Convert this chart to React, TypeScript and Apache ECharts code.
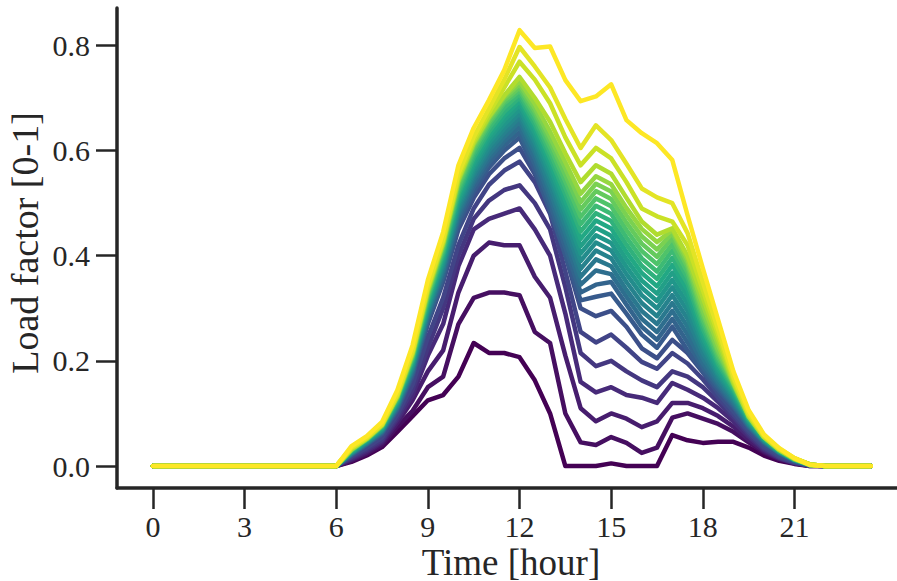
import React, { useEffect, useRef } from "react";
import * as echarts from "echarts";

// Half-hour time stamps of the day
const HOURS = [
  0, 0.5, 1, 1.5, 2, 2.5, 3, 3.5, 4, 4.5, 5, 5.5, 6, 6.5, 7, 7.5, 8, 8.5, 9, 9.5, 10, 10.5, 11, 11.5,
  12, 12.5, 13, 13.5, 14, 14.5, 15, 15.5, 16, 16.5, 17, 17.5, 18, 18.5, 19, 19.5, 20, 20.5, 21, 21.5,
  22, 22.5, 23, 23.5,
];
const NIGHT_AM = [0, 0, 0, 0, 0, 0, 0, 0, 0, 0, 0, 0]; // 0:00 - 5:30
const NIGHT_PM = [0, 0, 0]; // 22:30 - 23:30

// Profiles from 6:00 to 22:00, darkest (lowest) to brightest (highest)
const P00 = [0, .008, .02, .036, .065, .095, .125, .135, .17, .234, .215, .215, .207, .163, .10, 0, 0, 0, .005, 0, 0, 0, .059, .049, .044, .046, .046, .035, .02, .01, .004, 0, 0];
const P01 = [0, .01, .023, .04, .075, .105, .15, .17, .27, .32, .33, .33, .325, .255, .234, .10, .045, .04, .055, .044, .025, .035, .092, .10, .09, .08, .065, .045, .026, .013, .005, 0, 0];
const P02 = [0, .012, .026, .044, .082, .125, .18, .22, .33, .40, .425, .42, .42, .36, .32, .21, .11, .085, .10, .09, .074, .085, .12, .12, .11, .095, .075, .05, .028, .014, .005, .001, 0];
const P03 = [0, .014, .029, .047, .088, .135, .21, .27, .38, .45, .47, .48, .49, .45, .40, .29, .16, .14, .15, .135, .13, .12, .158, .145, .13, .11, .085, .056, .031, .015, .006, .001, 0];
const P04 = [0, .016, .032, .05, .093, .145, .225, .30, .40, .47, .505, .525, .534, .50, .45, .34, .215, .19, .20, .18, .163, .15, .18, .17, .15, .122, .093, .06, .033, .016, .006, .001, 0];
const P05 = [0, .018, .035, .054, .098, .155, .245, .32, .42, .49, .535, .562, .579, .54, .48, .37, .255, .235, .25, .225, .198, .185, .215, .195, .165, .13, .098, .064, .036, .018, .007, .001, 0];
const P06 = [0, .02, .04, .06, .105, .17, .27, .35, .45, .51, .555, .585, .605, .555, .49, .40, .30, .285, .295, .265, .224, .205, .24, .215, .178, .138, .104, .068, .04, .02, .008, .001, 0];
const P07 = [0, .021, .041, .062, .108, .174, .276, .357, .46, .522, .568, .60, .625, .563, .485, .402, .315, .322, .328, .29, .25, .225, .265, .22, .18, .145, .112, .073, .044, .024, .01, .002, 0];
const P08 = [0, .022, .042, .064, .11, .178, .281, .363, .468, .53, .577, .61, .635, .574, .498, .415, .33, .345, .35, .307, .265, .24, .28, .235, .188, .15, .115, .075, .045, .025, .01, .002, 0];
const P09 = [0, .023, .043, .065, .112, .181, .286, .369, .475, .538, .585, .618, .645, .585, .51, .429, .345, .372, .365, .322, .28, .255, .295, .25, .195, .155, .118, .077, .046, .025, .011, .002, 0];
const P10 = [0, .024, .044, .066, .114, .184, .29, .374, .481, .545, .592, .626, .655, .596, .522, .443, .36, .393, .38, .335, .295, .27, .31, .265, .205, .16, .122, .078, .047, .026, .011, .002, 0];
const P11 = [0, .025, .045, .067, .116, .187, .294, .379, .487, .552, .60, .634, .663, .605, .533, .456, .375, .41, .395, .35, .31, .285, .325, .28, .215, .166, .126, .08, .048, .026, .011, .002, 0];
const P12 = [0, .025, .046, .068, .118, .19, .298, .384, .493, .558, .607, .642, .671, .615, .545, .469, .39, .425, .41, .365, .325, .30, .34, .295, .225, .172, .13, .082, .049, .027, .012, .002, 0];
const P13 = [0, .026, .047, .07, .12, .193, .302, .389, .499, .565, .615, .65, .679, .624, .555, .481, .404, .439, .424, .379, .339, .314, .354, .309, .234, .177, .134, .084, .05, .027, .012, .002, 0];
const P14 = [0, .027, .048, .071, .122, .196, .306, .394, .505, .572, .622, .658, .687, .633, .566, .493, .418, .453, .438, .393, .353, .328, .368, .323, .243, .183, .138, .086, .051, .028, .012, .002, 0];
const P15 = [0, .028, .049, .072, .124, .199, .31, .399, .511, .579, .629, .666, .694, .642, .576, .505, .432, .467, .452, .407, .367, .342, .382, .335, .252, .189, .142, .088, .052, .028, .012, .002, 0];
const P16 = [0, .029, .05, .074, .126, .202, .315, .404, .517, .586, .636, .674, .701, .65, .586, .517, .446, .481, .466, .421, .381, .356, .396, .347, .261, .195, .146, .09, .053, .029, .012, .002, 0];
const P17 = [0, .03, .05, .075, .128, .205, .319, .409, .523, .593, .643, .682, .708, .658, .596, .529, .46, .495, .48, .435, .395, .37, .41, .358, .27, .201, .15, .091, .054, .03, .013, .002, 0];
const P18 = [0, .03, .051, .076, .13, .208, .323, .414, .529, .60, .65, .69, .714, .666, .606, .541, .474, .509, .494, .449, .409, .384, .422, .368, .278, .207, .153, .093, .055, .03, .013, .002, 0];
const P19 = [0, .031, .051, .077, .131, .21, .327, .418, .535, .605, .655, .695, .72, .674, .616, .553, .488, .523, .508, .463, .423, .398, .434, .378, .287, .214, .156, .094, .055, .031, .013, .003, 0];
const P20 = [0, .031, .052, .077, .132, .212, .33, .421, .54, .61, .66, .70, .726, .681, .625, .566, .502, .537, .522, .477, .437, .412, .443, .386, .295, .22, .157, .095, .055, .031, .013, .003, 0];
const P21 = [0, .032, .052, .078, .133, .214, .333, .424, .543, .613, .663, .703, .732, .689, .636, .578, .518, .551, .536, .491, .451, .426, .449, .393, .307, .23, .158, .095, .055, .031, .014, .003, 0];
const P22 = [0, .032, .052, .078, .133, .215, .335, .425, .545, .615, .665, .705, .740, .70, .655, .595, .54, .572, .556, .51, .465, .44, .452, .40, .32, .24, .16, .095, .055, .031, .014, .003, 0];
const P23 = [0, .034, .053, .079, .135, .217, .338, .428, .55, .62, .672, .72, .769, .735, .69, .625, .572, .605, .585, .54, .49, .475, .465, .42, .335, .25, .165, .098, .056, .032, .014, .003, 0];
const P24 = [0, .035, .054, .080, .137, .22, .342, .432, .556, .626, .68, .735, .797, .76, .72, .66, .605, .648, .62, .575, .528, .511, .50, .443, .35, .26, .17, .10, .058, .033, .015, .003, 0];
const P25 = [0, .038, .057, .084, .144, .23, .354, .445, .572, .643, .696, .753, .829, .795, .798, .734, .694, .703, .726, .658, .633, .614, .582, .477, .376, .278, .18, .106, .06, .034, .015, .002, 0];

const PROFILES = [P00, P01, P02, P03, P04, P05, P06, P07, P08, P09, P10, P11, P12, P13, P14, P15, P16, P17, P18, P19, P20, P21, P22, P23, P24, P25];

const X_TICKS = [0, 3, 6, 9, 12, 15, 18, 21];
const Y_TICKS = [0, 0.2, 0.4, 0.6, 0.8];

const VIRIDIS = [
  "#440154", "#482475", "#414487", "#355f8d", "#2a788e", "#21918c",
  "#22a884", "#44bf70", "#7ad151", "#bddf26", "#fde725",
];

function hexToRgb(h: string) {
  const n = parseInt(h.slice(1), 16);
  return [(n >> 16) & 255, (n >> 8) & 255, n & 255];
}
function viridis(t: number) {
  const s = t * (VIRIDIS.length - 1);
  const i = Math.min(Math.floor(s), VIRIDIS.length - 2);
  const f = s - i;
  const a = hexToRgb(VIRIDIS[i]);
  const b = hexToRgb(VIRIDIS[i + 1]);
  const c = a.map((v, k) => Math.round(v + (b[k] - v) * f));
  return `rgb(${c[0]},${c[1]},${c[2]})`;
}

const INK = "#262626";
const FONT = "'Liberation Serif', 'DejaVu Serif', serif";

export default function App() {
  const ref = useRef<HTMLDivElement>(null);
  useEffect(() => {
    if (!ref.current) return;
    const chart = echarts.init(ref.current, undefined, { renderer: "svg" });
    const n = PROFILES.length;
    const series = PROFILES.map((p, idx) => {
      const vals = [...NIGHT_AM, ...p, ...NIGHT_PM];
      return {
        type: "line",
        data: HOURS.map((h, k) => [h, vals[k]]),
        showSymbol: false,
        symbol: "none",
        lineStyle: { color: viridis(idx / (n - 1)), width: 4.5, cap: "round", join: "round" },
        emphasis: { disabled: true },
      };
    });
    chart.setOption({
      animation: false,
      backgroundColor: "#ffffff",
      grid: { left: 117, top: 8, right: 0, bottom: 93, containLabel: false },
      xAxis: {
        type: "value",
        min: -1.175,
        max: 24.355,
        axisLine: { show: true, onZero: false, lineStyle: { color: INK, width: 3.5 } },
        axisTick: { show: true, length: 21, customValues: X_TICKS, lineStyle: { color: INK, width: 2.5 } },
        axisLabel: {
          customValues: X_TICKS,
          margin: 23,
          fontSize: 30,
          fontFamily: FONT,
          color: INK,
          formatter: (v: number) => String(v),
        },
        splitLine: { show: false },
      },
      yAxis: {
        type: "value",
        min: -0.0418,
        max: 0.8712,
        axisLine: { show: true, onZero: false, lineStyle: { color: INK, width: 3.5 } },
        axisTick: { show: true, length: 21, customValues: Y_TICKS, lineStyle: { color: INK, width: 2.5 } },
        axisLabel: {
          customValues: Y_TICKS,
          margin: 27,
          fontSize: 30,
          fontFamily: FONT,
          color: INK,
          formatter: (v: number) => v.toFixed(1),
        },
        splitLine: { show: false },
      },
      graphic: [
        {
          type: "text",
          x: 511,
          y: 562,
          style: {
            text: "Time [hour]",
            fontSize: 37,
            fontFamily: FONT,
            fill: INK,
            align: "center",
            verticalAlign: "middle",
          },
        },
        {
          type: "text",
          x: 25,
          y: 243,
          rotation: Math.PI / 2,
          style: {
            text: "Load factor [0-1]",
            fontSize: 38,
            fontFamily: FONT,
            fill: INK,
            align: "center",
            verticalAlign: "middle",
          },
        },
      ],
      series,
    });
    return () => chart.dispose();
  }, []);
  return (
    <div
      ref={ref}
      style={{ position: "fixed", left: 0, top: 0, width: 897, height: 581, background: "#fff" }}
    />
  );
}
